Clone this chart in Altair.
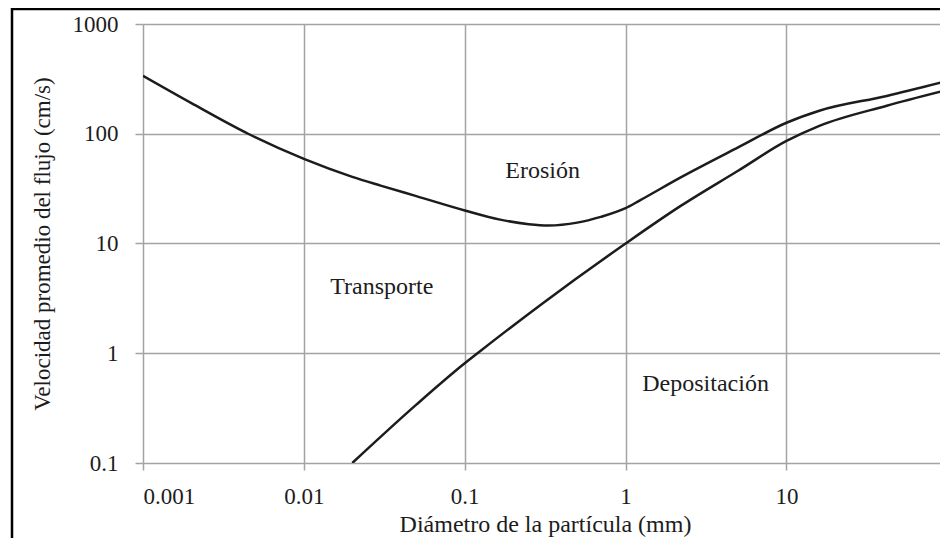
import altair as alt
import pandas as pd

# Erosion curve (upper)
ero_x = [0.001, 0.002, 0.0045, 0.01, 0.02, 0.03, 0.05, 0.1, 0.166, 0.25, 0.33, 0.5, 0.7, 1.0, 1.22, 2.2, 5.0, 10, 16, 42, 95]
ero_y = [337, 190, 100, 59, 40.5, 33.7, 27, 20, 16.5, 15, 14.6, 15.5, 17.5, 21, 24.6, 40, 75, 126, 162, 221, 297]

# Deposition curve (lower)
dep_x = [0.02, 0.05, 0.1, 0.12, 0.3, 1.0, 2.2, 5.0, 10, 16, 42, 95]
dep_y = [0.1, 0.34, 0.81, 1.0, 2.8, 10, 22, 46, 86, 118, 180, 246]

# Region labels
lab_text = ["Erosión", "Transporte", "Depositación"]
lab_x = [0.305, 0.0305, 3.14]
lab_y = [46, 4.0, 0.53]

x_ticks = [0.001, 0.01, 0.1, 1, 10]
y_ticks = [0.1, 1, 10, 100, 1000]

FONT = "'Liberation Serif', 'Times New Roman', 'DejaVu Serif', serif"
INK = "#1c1c1c"
GRID = "#a3a3a3"

curves = pd.concat([
    pd.DataFrame({"d": ero_x, "v": ero_y, "curve": "Erosión"}),
    pd.DataFrame({"d": dep_x, "v": dep_y, "curve": "Depositación"}),
])
labels = pd.DataFrame({"t": lab_text, "d": lab_x, "v": lab_y})

xscale = alt.Scale(type="log", domain=[0.001, 90], nice=False)
yscale = alt.Scale(type="log", domain=[0.1, 1000], nice=False)

xaxis = alt.Axis(values=x_ticks, format="~g", title="Diámetro de la partícula (mm)",
                 tickSize=7, labelPadding=15, titleX=402, titleY=61,
                 titleBaseline="middle", titleFontSize=24)
yaxis = alt.Axis(values=y_ticks, format="~g", title="Velocidad promedio del flujo (cm/s)",
                 tickSize=8, labelPadding=17, titleX=-101, titleY=219.5,
                 titleBaseline="middle", titleFontSize=23)

lines = alt.Chart(curves).mark_line(color=INK, strokeWidth=2.5, interpolate="monotone", clip=True).encode(
    x=alt.X("d:Q", scale=xscale, axis=xaxis),
    y=alt.Y("v:Q", scale=yscale, axis=yaxis),
    detail="curve:N",
)

texts = alt.Chart(labels).mark_text(font=FONT, fontSize=24, color=INK).encode(
    x=alt.X("d:Q", scale=xscale),
    y=alt.Y("v:Q", scale=yscale),
    text="t:N",
)

one = pd.DataFrame({"k": [0]})
frame_left = alt.Chart(one).mark_rule(color="#000", strokeWidth=2.5).encode(
    x=alt.value(-131), y=alt.value(-16), y2=alt.value(520))
frame_top = alt.Chart(one).mark_rule(color="#000", strokeWidth=2.5).encode(
    x=alt.value(-132), x2=alt.value(800), y=alt.value(-15))

chart = alt.layer(lines, texts, frame_left, frame_top).properties(
    width=797, height=439,
    padding={"left": 135, "top": 16, "right": 0, "bottom": 75},
    autosize=alt.AutoSizeParams(type="none"),
).configure_view(strokeWidth=0).configure_axis(
    labelFont=FONT, titleFont=FONT, labelFontSize=23, labelColor=INK, titleColor=INK,
    titleFontWeight="normal", grid=True, gridColor=GRID, gridWidth=1.5,
    tickColor=GRID, tickWidth=1.5, domain=False,
)

chart.save("out.html", embed_options={"renderer": "svg", "actions": False})
